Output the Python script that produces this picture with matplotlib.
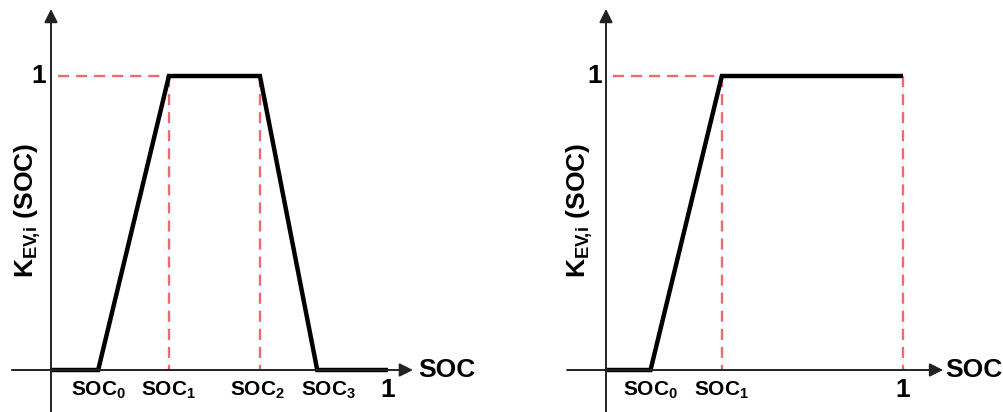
import matplotlib
matplotlib.use('Agg')
import matplotlib.pyplot as plt

plt.rcParams['font.family'] = ['Liberation Sans', 'DejaVu Sans']
plt.rcParams['font.weight'] = 'bold'
plt.rcParams['mathtext.fontset'] = 'custom'
plt.rcParams['mathtext.rm'] = 'Liberation Sans:bold'
plt.rcParams['mathtext.it'] = 'Liberation Sans:bold'
plt.rcParams['mathtext.bf'] = 'Liberation Sans:bold'
plt.rcParams['lines.scale_dashes'] = False

# breakpoints (fraction of full SOC range)
left_x = [0, 0.14, 0.35, 0.62, 0.79, 1.0]
left_y = [0, 0, 1, 1, 0, 0]
left_labels = ['SOC$_0$', 'SOC$_1$', 'SOC$_2$', 'SOC$_3$']

right_x = [0, 0.15, 0.39, 1.0]
right_y = [0, 0, 1, 1]
right_labels = ['SOC$_0$', 'SOC$_1$']

ylabel = r'$K_{EV\!,\!i}$ (SOC)'
red = '#ec6b70'
axis_col = '#222222'


def draw_panel(ax, xs, ys, labels, nudges, dashed_x, ylab_x, xlab_x, x0, x1):
    # axes with arrow heads
    ax.annotate('', xy=(x1, 0), xytext=(x0, 0),
                arrowprops=dict(arrowstyle='-|>', lw=1.4, color=axis_col,
                                mutation_scale=20, shrinkA=0, shrinkB=0))
    ax.annotate('', xy=(0, 1.228), xytext=(0, -0.15),
                arrowprops=dict(arrowstyle='-|>', lw=1.4, color=axis_col,
                                mutation_scale=20, shrinkA=0, shrinkB=0))

    # red guide lines
    first = ys.index(1)
    ax.plot([0, xs[first]], [1, 1], color=red, lw=1.7, ls=(8, (8, 5)))
    for x in dashed_x:
        ax.plot([x, x], [1, 0], color=red, lw=1.7, ls=(0, (8, 5)))

    ax.plot(xs, ys, color='black', lw=3.2, solid_joinstyle='miter',
            solid_capstyle='butt')

    # breakpoint labels (small sideways nudge in points)
    for x, lab, dx in zip(xs[1:len(labels) + 1], labels, nudges):
        ax.annotate(lab, xy=(x, -0.068), xytext=(dx, 0),
                    textcoords='offset points', ha='center', va='center',
                    fontsize=15)
    ax.text(1.0, -0.068, '1', ha='center', va='center', fontsize=19)
    ax.text(-0.015, 1, '1', ha='right', va='center', fontsize=19)
    ax.text(xlab_x, 0, 'SOC', ha='left', va='center', fontsize=19)
    ax.text(ylab_x, 0.544, ylabel, rotation=90, ha='center', va='center',
            fontsize=19)
    ax.axis('off')


fig = plt.figure(figsize=(10.04, 4.12), dpi=100)

ax1 = fig.add_axes([0, 0, 0.5, 1])
ax1.set_xlim(-51 / 337, (502 - 51) / 337)
ax1.set_ylim(-42 / 294, 370 / 294)
draw_panel(ax1, left_x, left_y, left_labels, [0, 0, -2, 8],
           [left_x[2], left_x[3]], -0.068, 1.089, -0.116, 1.074)

ax2 = fig.add_axes([0.5, 0, 0.5, 1])
ax2.set_xlim((502 - 606) / 297, (1004 - 606) / 297)
ax2.set_ylim(-42 / 294, 370 / 294)
draw_panel(ax2, right_x, right_y, right_labels, [0, 0],
           [right_x[2], right_x[3]], -0.088, 1.141, -0.131, 1.135)

fig.savefig('out.png', dpi=100)
